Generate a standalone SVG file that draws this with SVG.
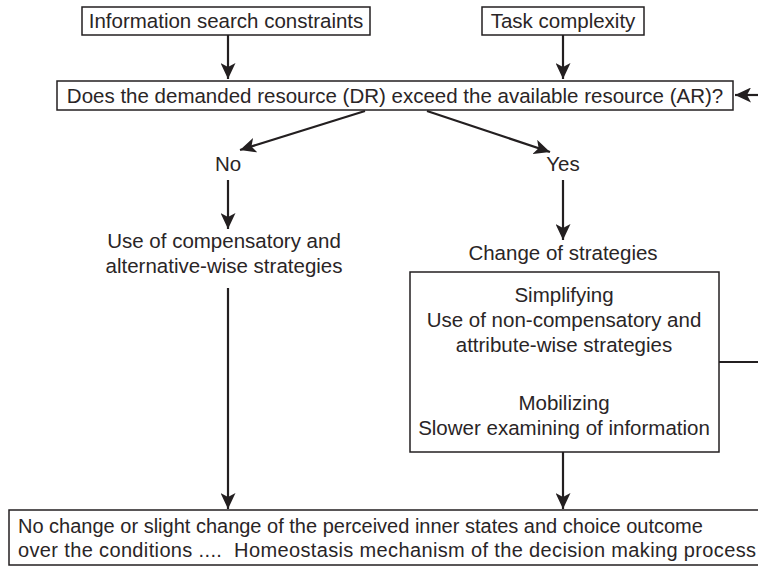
<svg xmlns="http://www.w3.org/2000/svg" width="758" height="568" viewBox="0 0 758 568">
<style>
  text { font-family: "Liberation Sans", Arial, sans-serif; font-size: 20.5px; fill: #2a2526; }
  .c { text-anchor: middle; }
  .s { font-size: 20px; }
  .box { fill: #ffffff; stroke: #231f20; stroke-width: 1.5; }
  .conn { stroke: #231f20; stroke-width: 2.2; fill: none; }
</style>
<defs>
  <marker id="ah" markerUnits="userSpaceOnUse" viewBox="0 0 16 15" refX="16" refY="7.5" markerWidth="16" markerHeight="15" orient="auto">
    <path d="M0,0 L16,7.5 L0,15 L4,7.5 z" fill="#231f20"/>
  </marker>
</defs>
<rect width="758" height="568" fill="#ffffff"/>
<g id="connectors">
  <line class="conn" x1="228" y1="35" x2="228" y2="79" marker-end="url(#ah)"/>
  <line class="conn" x1="563" y1="35" x2="563" y2="79" marker-end="url(#ah)"/>
  <line class="conn" x1="758" y1="95" x2="735" y2="95" marker-end="url(#ah)"/>
  <line class="conn" x1="365" y1="111" x2="240" y2="150" marker-end="url(#ah)"/>
  <line class="conn" x1="427" y1="111" x2="550" y2="152" marker-end="url(#ah)"/>
  <line class="conn" x1="228" y1="180" x2="228" y2="229" marker-end="url(#ah)"/>
  <line class="conn" x1="563" y1="180" x2="563" y2="240" marker-end="url(#ah)"/>
  <line class="conn" x1="228" y1="288" x2="228" y2="509" marker-end="url(#ah)"/>
  <line class="conn" x1="563" y1="452" x2="563" y2="509" marker-end="url(#ah)"/>
  <line class="conn" x1="719" y1="362" x2="758" y2="362"/>
</g>
<g id="constraints">
  <rect class="box" x="82" y="7" width="288" height="28"/>
  <text class="c" x="226" y="28">Information search constraints</text>
</g>
<g id="complexity">
  <rect class="box" x="482" y="7" width="162" height="28"/>
  <text class="c" x="563" y="28">Task complexity</text>
</g>
<g id="question">
  <rect class="box" x="57" y="81" width="676" height="29"/>
  <text class="c" x="395" y="103">Does the demanded resource (DR) exceed the available resource (AR)?</text>
</g>
<g id="no">
  <text class="c" x="228" y="171">No</text>
</g>
<g id="yes">
  <text class="c" x="563" y="171">Yes</text>
</g>
<g id="compensatory">
  <text class="c" x="224" y="248">Use of compensatory and</text>
  <text class="c" x="224" y="273">alternative-wise strategies</text>
</g>
<g id="change">
  <text class="c" x="563" y="260">Change of strategies</text>
</g>
<g id="strategies">
  <rect class="box" x="410" y="272" width="309" height="180"/>
  <text class="c" x="564" y="302">Simplifying</text>
  <text class="c" x="564" y="327">Use of non-compensatory and</text>
  <text class="c" x="564" y="352">attribute-wise strategies</text>
  <text class="c" x="564" y="410">Mobilizing</text>
  <text class="c" x="564" y="435">Slower examining of information</text>
</g>
<g id="outcome">
  <rect class="box" x="9" y="510" width="760" height="55"/>
  <text class="s" x="18" y="533">No change or slight change of the perceived inner states and choice outcome</text>
  <text class="s" x="18" y="557" xml:space="preserve" textLength="738" lengthAdjust="spacing">over the conditions ....  Homeostasis mechanism of the decision making process</text>
</g>
</svg>
